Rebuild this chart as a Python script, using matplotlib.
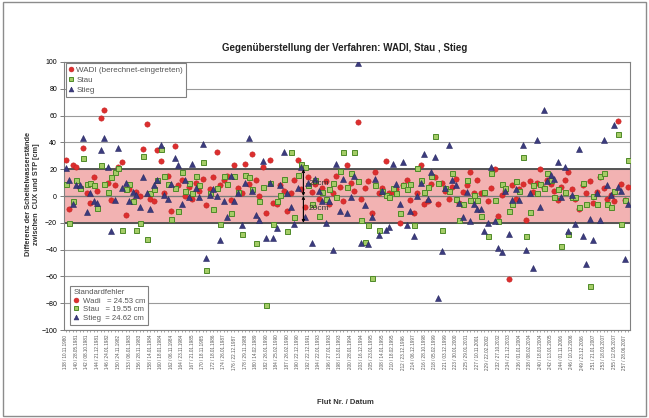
import numpy as np
import matplotlib
matplotlib.use('Agg')
import matplotlib.pyplot as plt
from matplotlib.lines import Line2D
from matplotlib.patches import Rectangle

plt.rcParams['font.family'] = ['Liberation Sans', 'DejaVu Sans']

# Differenz berechnet - eingetreten [cm], je Flut
wadi = [27, -10, 23, 22, 6, 36, 2, -5, 14, 4,
        58, 64, 10, -3, 8, 22, 25, -14, 5, -4,
        3, 0, 35, 54, -2, -4, 34, 26, 2, 15,
        -11, 37, 8, 12, 0, 7, -2, 10, 4, 13,
        -7, 5, 14, 33, 8, 12, 15, -3, 23, 6,
        2, 24, 9, 31, 12, 0, 22, -13, 27, -5,
        -6, 8, 4, -11, 2, 12, 27, 5, -8, 14,
        3, 9, -2, 6, 11, -6, 2, 15, 7, -4,
        23, 10, 4, 55, -2, 6, 11, -13, 18, 2,
        6, 26, 2, 3, 5, -20, 8, 12, -3, -13,
        2, 23, -6, -4, 9, 14, -6, 10, 4, -2,
        7, 13, -5, 3, 8, 18, 2, 12, 2, 2,
        -4, 6, 20, -15, 1, 4, -62, 8, -2, 5,
        9, -18, 11, 3, 10, 20, 6, 12, 9, 4,
        -3, 7, 12, 18, 5, -2, -10, 8, 2, 11,
        -5, 3, 14, 6, -2, 1, -4, 56, 9, -3,
        7]

stau = [9, -20, -4, 12, 6, 28, 9, 10, 8, -9,
        23, 9, 3, 14, 18, 21, -25, 5, 9, -4,
        -25, -20, 30, -32, 2, 5, 12, 35, 15, 9,
        -17, 6, -11, 18, 4, 10, 2, 15, 8, 25,
        -55, 2, -10, 6, -21, 15, 9, -13, 15, 3,
        -28, 16, 14, 5, -35, -4, 7, -81, 10, -21,
        -4, 1, 13, -26, 33, -16, 16, 24, 22, 8,
        -6, 12, -15, 3, -2, 5, 10, -1, 19, 33,
        7, 17, 33, 11, -18, -34, -22, -61, 8, -25,
        4, 1, -1, 6, 2, -13, 8, 5, 9, -22,
        21, 12, 3, 7, 15, 45, 10, -25, 6, 4,
        17, -2, -18, -6, 12, -3, 1, -3, -15, 3,
        -30, 17, -3, -19, 9, 6, -11, -6, 11, 4,
        29, -30, -12, 8, 2, 9, 6, 17, 12, -1,
        5, -37, 3, -28, -1, -1, -8, 10, -6, -67,
        0, -6, 15, 17, -6, -8, 4, 46, -21, -3,
        27]

stieg = [21, 12, -6, 8, 8, 43, -12, 2, -4, -5,
         34, 43, 22, -26, -3, 36, 6, 10, -4, 3,
         1, -8, 14, 2, -10, 8, 12, 38, 1, -2,
         9, 28, 23, -6, 12, -1, 24, 6, -1, 39,
         -46, 1, 5, 0, -33, -4, -16, 15, -4, 2,
         -22, 10, 43, 4, -14, -18, 26, -31, 10, -31,
         -24, 8, 33, 2, -8, -21, 6, 22, -16, 10,
         -35, 13, 4, -4, -20, -4, -40, 24, -11, 13,
         -13, -1, 15, 99, -35, -7, -36, -16, 13, -29,
         4, -25, -23, 24, 9, -6, 25, -22, -11, -30,
         0, 10, 31, -2, 18, 29, -76, -41, 6, 38,
         12, 8, -5, -16, 3, -19, -6, -10, -10, -26,
         -20, 22, -19, -39, -42, 4, -28, -3, 5, -3,
         38, -40, 2, -54, 42, -8, 64, 11, 16, 13,
         25, -1, 22, -26, 1, -21, 35, -30, -51, -17,
         -33, 2, -18, 42, 8, 1, 53, 7, 4, -47,
         -6]

flut_labels = ['138 / 10.11.1980', '140 / 28.05.1981', '142 / 08.10.1981', '144 / 21.12.1981',
               '146 / 24.01.1982', '150 / 24.11.1982', '153 / 06.01.1983', '156 / 28.11.1983',
               '158 / 14.01.1984', '160 / 18.01.1984', '162 / 06.11.1984', '164 / 23.11.1984',
               '167 / 21.01.1985', '170 / 18.11.1985', '172 / 18.01.1986', '174 / 26.01.1987',
               '176 / 22.12.1987', '178 / 29.11.1988', '180 / 14.02.1989', '182 / 26.01.1990',
               '184 / 25.02.1990', '187 / 26.02.1990', '190 / 22.12.1990', '192 / 22.12.1991',
               '194 / 22.01.1993', '196 / 27.01.1993', '198 / 13.01.1993', '200 / 28.01.1994',
               '203 / 16.12.1994', '205 / 23.01.1995', '208 / 14.01.1995', '210 / 18.02.1995',
               '212 / 23.12.1996', '214 / 06.12.1997', '216 / 28.10.1998', '218 / 05.02.1999',
               '221 / 03.12.1999', '223 / 30.01.2000', '225 / 29.01.2001', '227 / 10.11.2001',
               '229 / 22.02.2002', '232 / 27.10.2002', '234 / 21.12.2003', '236 / 01.01.2004',
               '238 / 08.02.2004', '240 / 18.03.2004', '242 / 13.01.2005', '244 / 01.11.2006',
               '246 / 10.12.2006', '249 / 23.12.2006', '251 / 21.01.2007', '253 / 18.03.2007',
               '255 / 12.05.2007', '257 / 28.06.2007']

verfahren = ['Wadi', 'Stau', 'Stieg']
standardfehler = [24.53, 19.55, 24.62]
toleranz = 20

fig = plt.figure(figsize=(6.49, 4.18), dpi=100)
fig.add_artist(Rectangle((0.004, 0.005), 0.992, 0.99, transform=fig.transFigure,
                         fill=False, ec='#8c8c8c', lw=1.0))

ax = fig.add_axes([0.0986, 0.2105, 0.8721, 0.6412])
x = np.arange(len(wadi))

# Toleranzband +-20 cm
ax.axhspan(-toleranz, toleranz, color='#F2B2B2', zorder=0, lw=0)
for yy in range(-100, 101, 20):
    ax.axhline(yy, color='#9a9a9a', lw=0.8, zorder=1)
ax.axhline(0, color='#7a7a7a', lw=0.9, zorder=1)
ax.axhline(toleranz, color='#555555', lw=1.4, zorder=1)
ax.axhline(-toleranz, color='#555555', lw=1.4, zorder=1)

ax.plot(x, wadi, ls='none', marker='o', ms=3.8, mfc='#DD2E2E', mec='#C42222', mew=0.4, zorder=3)
ax.plot(x, stau, ls='none', marker='s', ms=3.6, mfc='#A4CC66', mec='#4E8A28', mew=0.7, zorder=4)
ax.plot(x, stieg, ls='none', marker='^', ms=3.8, mfc='#3B3B7E', mec='#2A2A62', mew=0.4, zorder=5)

# Markierung der 20cm
xa = 67.6
for y_end in (toleranz, -toleranz):
    ax.annotate('', xy=(xa, y_end), xytext=(xa, 0),
                arrowprops=dict(arrowstyle='<->', color='black', lw=0.8,
                                mutation_scale=4, shrinkA=0, shrinkB=0), zorder=6)
ax.text(xa + 1.5, 9, '20cm', fontsize=6, color='#333333', va='center', zorder=6)
ax.text(xa + 1.5, -9, '20cm', fontsize=6, color='#333333', va='center', zorder=6)

ax.set_xlim(-0.5, len(wadi) - 0.5)
ax.set_ylim(-100, 100)
ax.set_yticks(range(-100, 101, 20))
ax.tick_params(axis='y', labelsize=5, length=3, width=0.6, color='#666666', pad=2)
ax.set_xticks(x[::3])
ax.set_xticklabels(flut_labels, rotation=90, fontsize=3.3, color='#555555')
ax.set_xticks(x, minor=True)
ax.tick_params(axis='x', which='both', length=1.5, width=0.4, color='#666666', pad=2)
for sp in ax.spines.values():
    sp.set_color('#808080')
    sp.set_linewidth(0.8)

handles = [
    Line2D([], [], ls='none', marker='o', ms=3.5, mfc='#DD2E2E', mec='#C42222', mew=0.4),
    Line2D([], [], ls='none', marker='s', ms=3.3, mfc='#A4CC66', mec='#4E8A28', mew=0.7),
    Line2D([], [], ls='none', marker='^', ms=3.5, mfc='#3B3B7E', mec='#2A2A62', mew=0.4),
]
leg1 = ax.legend(handles, ['WADI (berechnet-eingetreten)', 'Stau', 'Stieg'],
                 loc='upper left', bbox_to_anchor=(0.004, 0.995), fontsize=5.8,
                 frameon=True, fancybox=False, edgecolor='#808080', framealpha=1,
                 handlelength=0.6, handletextpad=0.3, borderpad=0.35, labelspacing=0.3,
                 borderaxespad=0)
leg1.get_frame().set_linewidth(0.8)
for t in leg1.get_texts():
    t.set_color('#555555')
ax.add_artist(leg1)

stat_labels = [f'{n:<6} = {v:.2f} cm' for n, v in zip(verfahren, standardfehler)]
leg2 = ax.legend(handles, stat_labels, title='Standardfehler', title_fontsize=5.6,
                 loc='lower left', bbox_to_anchor=(0.011, 0.019), fontsize=5.6,
                 frameon=True, fancybox=False, edgecolor='#808080', framealpha=1,
                 handlelength=0.6, handletextpad=0.6, borderpad=0.4, labelspacing=0.15,
                 borderaxespad=0, alignment='left')
leg2.get_frame().set_linewidth(0.8)
leg2.get_title().set_color('#555555')
for t in leg2.get_texts():
    t.set_color('#555555')

fig.text(345 / 649, 1 - 48 / 418, 'Gegenüberstellung der Verfahren: WADI, Stau , Stieg',
         ha='center', va='center', fontsize=7, fontweight='bold', color='#222222')
fig.text(33 / 649, 0.535, 'Differenz der Scheitelwasserstände\nzwischen  CUX und STP [cm]',
         ha='center', va='center', rotation=90, fontsize=5.3, fontweight='bold',
         color='#333333', multialignment='center')
fig.text(345 / 649, 1 - 403 / 418, 'Flut Nr. / Datum', ha='center', va='center',
         fontsize=5.5, fontweight='bold', color='#333333')

fig.savefig('out.png', dpi=100)
